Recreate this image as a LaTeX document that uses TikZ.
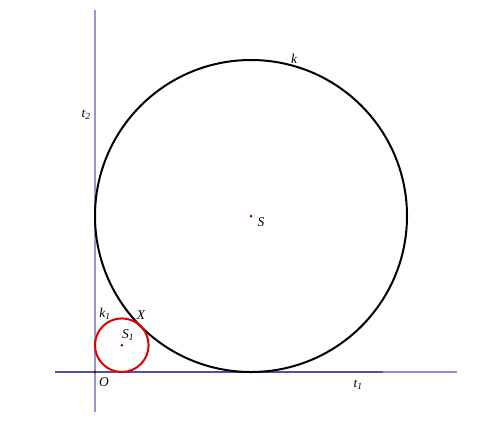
\documentclass[tikz,border=0pt]{standalone}
\usepackage{fontspec}
\setmainfont{Liberation Serif}
\begin{document}
\begin{tikzpicture}[x=1bp,y=-1bp,
  tline/.style={line width=1.4bp},
  bigc/.style={draw=black,line width=2bp},
  smallc/.style={draw=red!90!black,line width=2bp},
  pt/.style={circle,fill=red!55!black,inner sep=0pt,minimum size=3bp},
  lab/.style={font=\fontsize{13.5}{13.5}\selectfont\itshape,inner sep=0pt}]
\useasboundingbox (0,0) rectangle (496,420);
% tangent lines
\coordinate (t2a) at (95,10);
\coordinate (t2b) at (95,412);
\coordinate (t1a) at (55,372);
\coordinate (t1b) at (457,372);
\draw[tline,color={rgb,255:red,150;green,150;blue,215}] (t2a) -- (t2b);
\draw[tline,color={rgb,255:red,140;green,140;blue,210}] (t1a) -- (t1b);
\draw[tline,color={rgb,255:red,80;green,80;blue,175}] (t1a) -- (383,372);
% circles
\node[bigc,circle,minimum size=312bp,inner sep=0pt] (k) at (251,216) {};
\node[smallc,circle,minimum size=53.6bp,inner sep=0pt] (k1) at (121.8,345.2) {};
% points
\node[pt] (S) at (251,216) {};
\node[pt] (S1) at (121.8,345.2) {};
\node[pt] (O) at (95,372) {};
\coordinate (X) at (140.7,326.3);
% labels
\node[lab] (lk) at (294,59) {k};
\node[lab] (lt2) at (86,115) {t\textsubscript{2}};
\node[lab] (lS) at (261,222) {S};
\node[lab] (lS1) at (128,335) {S\textsubscript{1}};
\node[lab] (lk1) at (105,314) {k\textsubscript{1}};
\node[lab] (lX) at (141,315) {X};
\node[lab] (lO) at (104,382) {O};
\node[lab] (lt1) at (358,385) {t\textsubscript{1}};
\end{tikzpicture}
\end{document}
